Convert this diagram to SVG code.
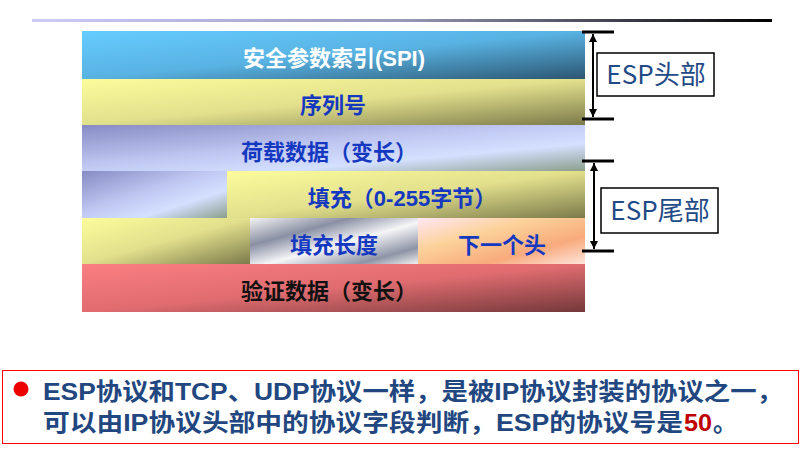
<svg xmlns="http://www.w3.org/2000/svg" width="811" height="455" viewBox="0 0 811 455">
  <style>
    .cn { font-family: "Liberation Sans", "Noto Sans CJK SC", sans-serif; font-weight: bold; font-size: 22px; text-anchor: middle; }
    .blue { fill: #1538c0; }
    .white { fill: #ffffff; }
    .black { fill: #111111; }
    .tick { stroke: #000; stroke-width: 3; }
    .span { stroke: #000; stroke-width: 2; fill: none; marker-start: url(#arr); marker-end: url(#arr); }
    .lbl-box { fill: #fff; stroke: #000; stroke-width: 1.5; }
    .lbl { font-family: "Noto Sans CJK SC", sans-serif; font-size: 26px; fill: #234a86; text-anchor: middle; }
    .note { font-family: "Liberation Sans", "Noto Sans CJK SC", sans-serif; font-weight: bold; font-size: 24px; fill: #224780; }
    .num { fill: #c00000; }
  </style>
  <defs>
    <linearGradient id="rule" x1="0" y1="0" x2="1" y2="0">
      <stop offset="0" stop-color="#ccccff"/>
      <stop offset="0.5" stop-color="#9898b8"/>
      <stop offset="1" stop-color="#000000"/>
    </linearGradient>
    <linearGradient id="gBlue" x1="0" y1="0" x2="1" y2="1">
      <stop offset="0" stop-color="#66ccff"/>
      <stop offset="0.5" stop-color="#58b2e2"/>
      <stop offset="1" stop-color="#2c5672"/>
    </linearGradient>
    <linearGradient id="gYellow" x1="0" y1="0" x2="1" y2="1">
      <stop offset="0" stop-color="#fcfc9c"/>
      <stop offset="0.5" stop-color="#e2e08c"/>
      <stop offset="1" stop-color="#7c7a4a"/>
    </linearGradient>
    <linearGradient id="gLav" x1="0" y1="0" x2="1" y2="1">
      <stop offset="0" stop-color="#878bc4"/>
      <stop offset="0.45" stop-color="#c0c8f2"/>
      <stop offset="0.7" stop-color="#d4e0ff"/>
      <stop offset="1" stop-color="#8c9e8c"/>
    </linearGradient>
    <linearGradient id="gMetal" x1="0" y1="0" x2="1" y2="1">
      <stop offset="0" stop-color="#f4f4f4"/>
      <stop offset="0.3" stop-color="#8a90a4"/>
      <stop offset="0.55" stop-color="#f6f6f8"/>
      <stop offset="0.82" stop-color="#8e94a6"/>
      <stop offset="1" stop-color="#f0f0f0"/>
    </linearGradient>
    <linearGradient id="gPeach" x1="0" y1="0" x2="1" y2="1">
      <stop offset="0" stop-color="#ffe6f4"/>
      <stop offset="0.35" stop-color="#fcd29a"/>
      <stop offset="0.7" stop-color="#f8aa7c"/>
      <stop offset="1" stop-color="#ffe4dc"/>
    </linearGradient>
    <linearGradient id="gRed" x1="0" y1="0" x2="1" y2="1">
      <stop offset="0" stop-color="#fa7e82"/>
      <stop offset="0.5" stop-color="#e06c70"/>
      <stop offset="1" stop-color="#74383a"/>
    </linearGradient>
    <marker id="arr" viewBox="0 0 10 10" refX="10" refY="5" markerWidth="4" markerHeight="4" orient="auto-start-reverse">
      <path d="M0,0 L10,5 L0,10 z" fill="#000"/>
    </marker>
  </defs>

  <!-- header rule -->
  <rect x="32" y="19" width="740" height="3" fill="url(#rule)"/>

  <!-- ESP packet fields -->
  <g id="spi">
    <rect x="82" y="31" width="503" height="48" fill="url(#gBlue)"/>
    <text class="cn white" x="334" y="66">安全参数索引(SPI)</text>
  </g>
  <g id="seq">
    <rect x="82" y="79" width="503" height="46" fill="url(#gYellow)"/>
    <text class="cn blue" x="333" y="113">序列号</text>
  </g>
  <g id="payload">
    <rect x="82" y="125" width="503" height="46" fill="url(#gLav)"/>
    <rect x="82" y="171" width="145" height="47" fill="url(#gLav)"/>
    <text class="cn blue" x="329" y="160">荷载数据（变长）</text>
  </g>
  <g id="padding">
    <rect x="227" y="171" width="358" height="47" fill="url(#gYellow)"/>
    <rect x="82" y="218" width="168" height="46" fill="url(#gYellow)"/>
    <text class="cn blue" x="402" y="206">填充（0-255字节）</text>
  </g>
  <g id="padlen">
    <rect x="250" y="218" width="168" height="46" fill="url(#gMetal)"/>
    <text class="cn blue" x="334" y="253">填充长度</text>
  </g>
  <g id="nexthdr">
    <rect x="418" y="218" width="167" height="46" fill="url(#gPeach)"/>
    <text class="cn blue" x="502" y="253">下一个头</text>
  </g>
  <g id="auth">
    <rect x="82" y="264" width="503" height="48" fill="url(#gRed)"/>
    <text class="cn black" x="329" y="299">验证数据（变长）</text>
  </g>

  <!-- range brackets -->
  <g id="connectors">
    <line class="tick" x1="582" y1="32" x2="614" y2="32"/>
    <line class="tick" x1="582" y1="119" x2="614" y2="119"/>
    <line class="span" x1="593" y1="34" x2="593" y2="117"/>
    <line class="tick" x1="582" y1="161" x2="614" y2="161"/>
    <line class="tick" x1="582" y1="251" x2="614" y2="251"/>
    <line class="span" x1="594" y1="163" x2="594" y2="249"/>
  </g>
  <g id="esp-header">
    <rect class="lbl-box" x="597" y="53" width="117" height="43"/>
    <text class="lbl" x="656" y="84">ESP头部</text>
  </g>
  <g id="esp-trailer">
    <rect class="lbl-box" x="601" y="188" width="117" height="45"/>
    <text class="lbl" x="660" y="220">ESP尾部</text>
  </g>

  <!-- note -->
  <g id="note">
    <rect x="2.5" y="370.5" width="796" height="73" fill="none" stroke="#ff0000" stroke-width="1"/>
    <circle cx="21" cy="389" r="7.5" fill="#ee0000"/>
    <text class="note" x="43" y="400" textLength="740" lengthAdjust="spacingAndGlyphs">ESP协议和TCP、UDP协议一样，是被IP协议封装的协议之一，</text>
    <text class="note" x="43" y="431" textLength="640" lengthAdjust="spacingAndGlyphs">可以由IP协议头部中的协议字段判断，ESP的协议号是</text>
    <text class="note num" x="684" y="431" textLength="28" lengthAdjust="spacingAndGlyphs">50</text>
    <text class="note" x="713" y="431">。</text>
  </g>
</svg>
